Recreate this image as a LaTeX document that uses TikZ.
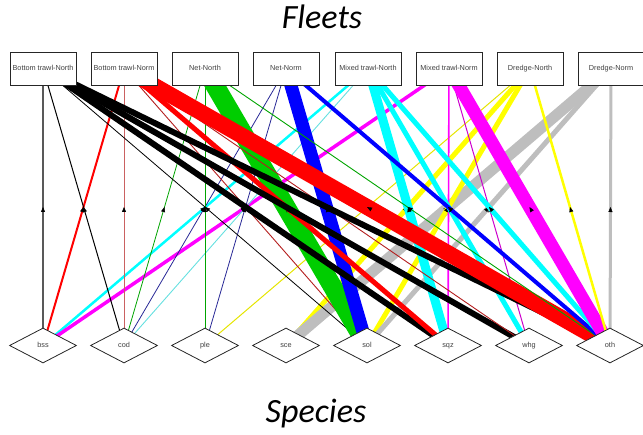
\documentclass[tikz,border=0pt]{standalone}
\usepackage{fontspec}
\setmainfont{Liberation Sans}
\newfontfamily\titlefont{Carlito}
\usetikzlibrary{shapes.geometric,arrows.meta,decorations.markings}
\pgfdeclarelayer{edges}
\pgfsetlayers{edges,main}

\definecolor{cBlack}{RGB}{0,0,0}
\definecolor{cRed}{RGB}{255,0,0}
\definecolor{cGreen}{RGB}{0,205,0}
\definecolor{cBlue}{RGB}{0,0,255}
\definecolor{cCyan}{RGB}{0,255,255}
\definecolor{cMagenta}{RGB}{255,0,255}
\definecolor{cYellow}{RGB}{255,255,0}
\definecolor{cGray}{RGB}{190,190,190}
\definecolor{cNavy}{RGB}{40,40,150}
\definecolor{cDarkRed}{RGB}{180,30,30}

\tikzset{
  fleetbox/.style={draw=black!85, line width=0.8pt, fill=white,
    minimum width=66pt, minimum height=33pt, inner sep=0pt,
    text height=5.3pt, text depth=1.4pt,
    font=\fontsize{7.3}{8}\selectfont, text=black!75},
  speciesbox/.style={diamond, aspect=1.9, draw=black!85, line width=0.8pt, fill=white,
    minimum width=67pt, minimum height=35pt, inner sep=0pt,
    text height=5.3pt, text depth=1.4pt,
    font=\fontsize{7.3}{8}\selectfont, text=black!75},
  titletext/.style={font=\titlefont\itshape\fontsize{34}{40}\selectfont, anchor=base},
  link/.style={postaction={decorate}, decoration={markings,
    mark=at position 0.5 with {\arrow[black,line width=0.4pt]{Triangle[length=5pt,width=4pt]}}}}
}

\begin{document}
\begin{tikzpicture}[x=1pt,y=-1pt]
\useasboundingbox (0,0) rectangle (643,435);

% titles
\node[titletext] (tfleets) at (322,29) {Fleets};
\node[titletext] (tspecies) at (316,423) {Species};

% fleets
\node[fleetbox] (f1) at (43,68.5) {Bottom trawl-North};
\node[fleetbox] (f2) at (124,68.5) {Bottom trawl-Norm};
\node[fleetbox] (f3) at (205,68.5) {Net-North};
\node[fleetbox] (f4) at (286,68.5) {Net-Norm};
\node[fleetbox] (f5) at (368,68.5) {Mixed trawl-North};
\node[fleetbox] (f6) at (449,68.5) {Mixed trawl-Norm};
\node[fleetbox] (f7) at (530,68.5) {Dredge-North};
\node[fleetbox] (f8) at (611,68.5) {Dredge-Norm};

% species
\node[speciesbox] (bss) at (43,345.5) {bss};
\node[speciesbox] (cod) at (124,345.5) {cod};
\node[speciesbox] (ple) at (205,345.5) {ple};
\node[speciesbox] (sce) at (286,345.5) {sce};
\node[speciesbox] (sol) at (367,345.5) {sol};
\node[speciesbox] (sqz) at (448,345.5) {sqz};
\node[speciesbox] (whg) at (529,345.5) {whg};
\node[speciesbox] (oth) at (610,345.5) {oth};

% catches: species -> fleet, width by weight
\begin{pgfonlayer}{edges}
% bss
\draw[link, black!65, line width=1.8pt] (bss.center) -- (f1.center);
\draw[link, cRed, line width=2pt] (bss.center) -- (f2.center);
\draw[link, cCyan, line width=2.5pt] (bss.center) -- (f5.center);
\draw[link, cMagenta, line width=3.5pt] (bss.center) -- (f6.center);
% cod
\draw[link, cBlack, line width=1pt] (cod.center) -- (f1.center);
\draw[link, cDarkRed!70, line width=0.9pt] (cod.center) -- (f2.center);
\draw[link, cGreen!80!black, line width=0.8pt] (cod.center) -- (f3.center);
\draw[link, cNavy, line width=0.8pt] (cod.center) -- (f4.center);
\draw[link, cCyan!80!black!60, line width=0.9pt] (cod.center) -- (f5.center);
% ple
\draw[link, cGreen!80!black, line width=0.8pt] (ple.center) -- (f3.center);
\draw[link, cNavy, line width=0.8pt] (ple.center) -- (f4.center);
\draw[link, cYellow!90!black, line width=1pt] (ple.center) -- (f7.center);
% sce
\draw[link, cYellow, line width=5pt] (sce.center) -- (f7.center);
\draw[link, cGray, line width=11pt] (sce.center) -- (f8.center);
% sol
\draw[link, cBlack, line width=0.8pt] (sol.center) -- (f1.center);
\draw[link, cDarkRed, line width=0.9pt] (sol.center) -- (f2.center);
\draw[link, cGreen, line width=19pt] (sol.center) -- (f3.center);
\draw[link, cBlue, line width=13pt] (sol.center) -- (f4.center);
\draw[link, cYellow, line width=5pt] (sol.center) -- (f7.center);
\draw[link, cGray, line width=5pt] (sol.center) -- (f8.center);
% sqz
\draw[link, cBlack, line width=6pt] (sqz.center) -- (f1.center);
\draw[link, cRed, line width=5pt] (sqz.center) -- (f2.center);
\draw[link, cCyan, line width=9pt] (sqz.center) -- (f5.center);
\draw[link, cMagenta, line width=1.6pt] (sqz.center) -- (f6.center);
% whg
\draw[link, cBlack, line width=6pt] (whg.center) -- (f1.center);
\draw[link, cDarkRed, line width=0.9pt] (whg.center) -- (f2.center);
\draw[link, cCyan, line width=5pt] (whg.center) -- (f5.center);
\draw[link, cMagenta!80!black, line width=1pt] (whg.center) -- (f6.center);
% oth
\draw[link, cBlack, line width=6pt] (oth.center) -- (f1.center);
\draw[link, cRed, line width=16pt] (oth.center) -- (f2.center);
\draw[link, cGreen!80!black, line width=0.9pt] (oth.center) -- (f3.center);
\draw[link, cBlue, line width=4pt] (oth.center) -- (f4.center);
\draw[link, cCyan, line width=5pt] (oth.center) -- (f5.center);
\draw[link, cMagenta, line width=13pt] (oth.center) -- (f6.center);
\draw[link, cYellow, line width=2.5pt] (oth.center) -- (f7.center);
\draw[link, cGray, line width=3pt] (oth.center) -- (f8.center);
\end{pgfonlayer}
\end{tikzpicture}
\end{document}
